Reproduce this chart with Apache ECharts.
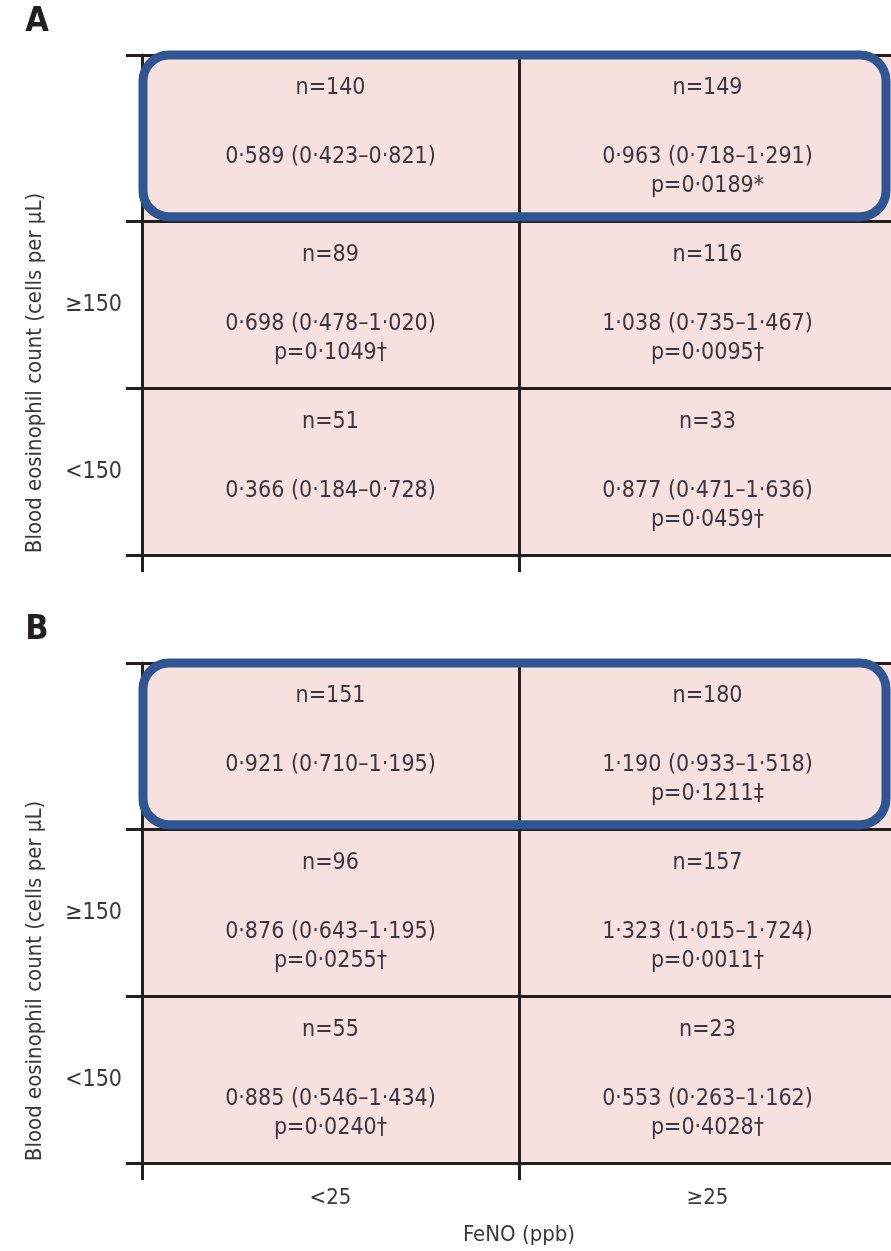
<!DOCTYPE html>
<html><head><meta charset="utf-8">
<script src="https://cdn.jsdelivr.net/npm/echarts@6/dist/echarts.min.js"></script>
<style>html,body{margin:0;padding:0;background:#fff}#c{width:891px;height:1251px}</style>
</head><body><div id="c"></div><script>
// ---- data ----
const xCategories = ['<25', '≥25'];
const yCategories = ['<150', '≥150', ''];   // bottom to top
// cells ordered: top-left, top-right, middle-left, middle-right, bottom-left, bottom-right
const panelA_n    = [140, 149, 89, 116, 51, 33];
const panelA_rr   = [0.589, 0.963, 0.698, 1.038, 0.366, 0.877];
const panelA_lo   = [0.423, 0.718, 0.478, 0.735, 0.184, 0.471];
const panelA_hi   = [0.821, 1.291, 1.020, 1.467, 0.728, 1.636];
const panelA_p    = [null, 0.0189, 0.1049, 0.0095, null, 0.0459];
const panelA_mark = ['', '*', '†', '†', '', '†'];
const panelB_n    = [151, 180, 96, 157, 55, 23];
const panelB_rr   = [0.921, 1.190, 0.876, 1.323, 0.885, 0.553];
const panelB_lo   = [0.710, 0.933, 0.643, 1.015, 0.546, 0.263];
const panelB_hi   = [1.195, 1.518, 1.195, 1.724, 1.434, 1.162];
const panelB_p    = [null, 0.1211, 0.0255, 0.0011, 0.0240, 0.4028];
const panelB_mark = ['', '‡', '†', '†', '†', '†'];
const panelLabels = ['A', 'B'];
const yTitle = 'Blood eosinophil count (cells per µL)';
const xTitle = 'FeNO (ppb)';

// ---- styling ----
const FONT = '"DejaVu Sans Condensed", "DejaVu Sans", sans-serif';
const TXT = '#3a3540';
const LINE = '#231f20';
const PINK = '#f6e1df';
const BLUE = '#2f5592';

const dot = (v, d) => v.toFixed(d).replace('.', '·');

function cellData() {
  const out = [];
  for (let i = 0; i < 6; i++) out.push([i % 2, 2 - Math.floor(i / 2), i]);
  return out;
}
function cellRenderer(nArr, rr, lo, hi, pArr, mark) {
  return function (params, api) {
    const i = api.value(2);
    const c = api.coord([api.value(0), api.value(1)]);
    const mk = (text, dy) => ({
      type: 'text', x: c[0], y: c[1] + dy,
      style: { text, fill: TXT, font: '23px ' + FONT, align: 'center', verticalAlign: 'middle' }
    });
    const ch = [mk('n=' + nArr[i], -50),
      mk(dot(rr[i], 3) + ' (' + dot(lo[i], 3) + '–' + dot(hi[i], 3) + ')', 19)];
    if (pArr[i] != null) ch.push(mk('p=' + dot(pArr[i], 4) + mark[i], 48));
    return { type: 'group', children: ch };
  };
}
function boxRenderer(params, api) {
  const s = api.size([1, 1]);
  const c0 = api.coord([0, 2]);
  const c1 = api.coord([1, 2]);
  const x0 = c0[0] - s[0] / 2 + 1;
  const x1 = c1[0] + s[0] / 2 - 10;
  const y0 = c0[1] - s[1] / 2 + 0;
  const y1 = c0[1] + s[1] / 2 - 5;
  return { type: 'rect', shape: { x: x0, y: y0, width: x1 - x0, height: y1 - y0, r: 26 },
    style: { fill: 'none', stroke: BLUE, lineWidth: 9 } };
}

const tops = [55, 663];
const grids = tops.map(t => ({ left: 142, top: t, width: 754, height: 500, show: true,
  backgroundColor: PINK, borderWidth: 0, containLabel: false, outerBoundsMode: 'none' }));
const xAxes = [0, 1].map(g => ({
  type: 'category', gridIndex: g, data: xCategories,
  axisLine: { show: true, lineStyle: { color: LINE, width: 3 } },
  axisTick: { show: true, length: 17, lineStyle: { color: LINE, width: 3 } },
  axisLabel: { show: g === 1, color: TXT, fontFamily: FONT, fontSize: 22, margin: 24 },
  splitLine: { show: true, lineStyle: { color: LINE, width: 3 } }
}));
const yAxes = [0, 1].map(g => ({
  type: 'category', gridIndex: g, data: yCategories,
  axisLine: { show: true, lineStyle: { color: LINE, width: 3 } },
  axisTick: { show: true, length: 16, lineStyle: { color: LINE, width: 3 } },
  axisLabel: { show: true, color: TXT, fontFamily: FONT, fontSize: 23, margin: 20 },
  splitLine: { show: true, lineStyle: { color: LINE, width: 3 } }
}));
const series = [
  { type: 'custom', xAxisIndex: 0, yAxisIndex: 0, data: cellData(), z: 3,
    renderItem: cellRenderer(panelA_n, panelA_rr, panelA_lo, panelA_hi, panelA_p, panelA_mark) },
  { type: 'custom', xAxisIndex: 1, yAxisIndex: 1, data: cellData(), z: 3,
    renderItem: cellRenderer(panelB_n, panelB_rr, panelB_lo, panelB_hi, panelB_p, panelB_mark) },
  { type: 'custom', xAxisIndex: 0, yAxisIndex: 0, data: [[0, 2]], z: 4, renderItem: boxRenderer },
  { type: 'custom', xAxisIndex: 1, yAxisIndex: 1, data: [[0, 2]], z: 4, renderItem: boxRenderer }
];
const graphic = [];
tops.forEach((t, k) => {
  graphic.push({ type: 'text', x: 37, y: t - 33, style: { text: panelLabels[k], fill: '#231f20',
    font: 'bold 34px ' + FONT, align: 'center', verticalAlign: 'middle' } });
  graphic.push({ type: 'text', x: 35, y: t + 318, rotation: Math.PI / 2, style: { text: yTitle,
    fill: TXT, font: '22px ' + FONT, align: 'center', verticalAlign: 'middle' } });
});
graphic.push({ type: 'text', x: 519, y: 1235, style: { text: xTitle, fill: TXT,
  font: '22px ' + FONT, align: 'center', verticalAlign: 'middle' } });

const chart = echarts.init(document.getElementById('c'), null, { renderer: 'canvas' });
chart.setOption({ animation: false, backgroundColor: '#fff', grid: grids, xAxis: xAxes,
  yAxis: yAxes, series, graphic });
</script></body></html>
